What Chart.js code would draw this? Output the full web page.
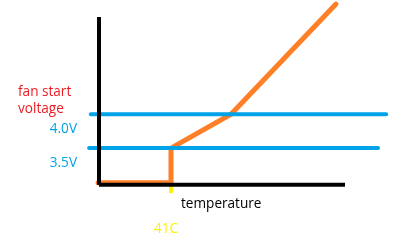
<!DOCTYPE html>
<html>
<head>
<meta charset="utf-8">
<script src="https://cdn.jsdelivr.net/npm/chart.js@4"></script>
<style>
    html, body { margin: 0; padding: 0; background: #fff; }
    #wrap { width: 405px; height: 248px; position: relative; }
</style>
</head>
<body>
<div id="wrap"><canvas id="fanChart"></canvas></div>
<script>
// temperature (C) / voltage (V)
const fanTemps = [16.7, 41, 41, 61, 96];
const fanVolts = [2.99, 2.99, 3.5, 4.0, 5.62];
const refVolts = [4.0, 3.5];
const refTempRanges = [[14.3, 112.7], [13.7, 110]];
const axisTemps = [17, 99];
const axisVolts = [2.96, 5.43];
const startTemp = 41;
const markVolts = [2.96, 2.86];
const voltLabels = ['4.0V', '3.5V'];
const yLabel = ['fan start', 'voltage'];
const xLabel = 'temperature';
const startLabel = '41C';

const FONT = '13.6px "Open Sans", sans-serif';

const labelsPlugin = {
    id: 'paintLabels',
    afterDraw(chart) {
        const { ctx, scales: { x, y } } = chart;
        ctx.save();
        ctx.font = FONT;
        ctx.textBaseline = 'alphabetic';

        ctx.fillStyle = '#ed1c24';
        ctx.textAlign = 'left';
        ctx.fillText(yLabel[0], 18, 96);
        ctx.fillText(yLabel[1], 18, 113);

        ctx.fillStyle = '#00a2e8';
        ctx.textAlign = 'right';
        refVolts.forEach((v, i) => {
            ctx.fillText(voltLabels[i], 77, y.getPixelForValue(v) + 19);
        });

        ctx.fillStyle = '#000';
        ctx.textAlign = 'left';
        ctx.fillText(xLabel, 181, 208);

        ctx.fillStyle = '#fff200';
        ctx.textAlign = 'center';
        ctx.fillText(startLabel, x.getPixelForValue(startTemp) - 5, 233);
        ctx.restore();
    }
};

const seg = (xs, ys) => xs.map((t, i) => ({ x: t, y: ys[i] }));

new Chart(document.getElementById('fanChart'), {
    type: 'scatter',
    data: {
        datasets: [
            {
                data: seg(axisTemps, [axisVolts[0], axisVolts[0]]),
                borderColor: '#000', borderWidth: 4
            },
            {
                data: seg([axisTemps[0], axisTemps[0]], axisVolts),
                borderColor: '#000', borderWidth: 4
            },
            {
                data: seg(refTempRanges[0], [refVolts[0], refVolts[0]]),
                borderColor: '#00a2e8', borderWidth: 4, borderCapStyle: 'round'
            },
            {
                data: seg(refTempRanges[1], [refVolts[1], refVolts[1]]),
                borderColor: '#00a2e8', borderWidth: 4, borderCapStyle: 'round'
            },
            {
                data: seg([startTemp, startTemp], markVolts),
                borderColor: '#fff200', borderWidth: 4, borderCapStyle: 'round'
            },
            {
                data: seg(fanTemps, fanVolts),
                borderColor: '#ff7f27', borderWidth: 5,
                borderCapStyle: 'round', borderJoinStyle: 'miter'
            }
        ].map(d => Object.assign({ showLine: true, pointRadius: 0, tension: 0, fill: false }, d))
    },
    options: {
        responsive: true,
        maintainAspectRatio: false,
        animation: false,
        layout: { padding: 0 },
        plugins: { legend: { display: false }, tooltip: { enabled: false } },
        scales: {
            x: { type: 'linear', display: false, min: -16, max: 119 },
            y: { type: 'linear', display: false, min: 2.03, max: 5.68 }
        }
    },
    plugins: [labelsPlugin]
});
</script>
</body>
</html>
